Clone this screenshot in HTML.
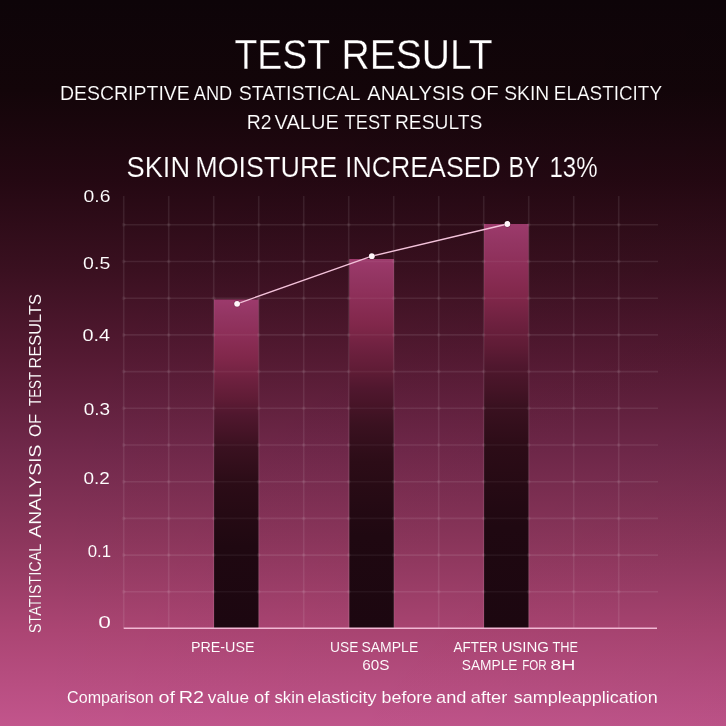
<!DOCTYPE html>
<html>
<head>
<meta charset="utf-8">
<style>
html,body{margin:0;padding:0;width:726px;height:726px;overflow:hidden;}
body{background:linear-gradient(90deg,rgba(0,0,0,0) 0%,rgba(0,0,0,0.035) 100%),linear-gradient(180deg,#0d0408 0%,#130509 12.4%,#240812 24.8%,#3a1020 37.2%,#551a33 49.6%,#70284a 62%,#8c365c 74.4%,#ab4573 86.8%,#c2558c 100%);}
svg{position:absolute;left:0;top:0;}
text{font-family:"Liberation Sans",sans-serif;fill:#ffffff;}
</style>
</head>
<body>
<svg width="726" height="726" viewBox="0 0 726 726">
<defs>
<linearGradient id="bar" x1="0" y1="0" x2="0" y2="1">
<stop offset="0" stop-color="#9c3a6c"/>
<stop offset="0.05" stop-color="#933562"/>
<stop offset="0.11" stop-color="#8c2e57"/>
<stop offset="0.18" stop-color="#80274a"/>
<stop offset="0.25" stop-color="#6c203e"/>
<stop offset="0.30" stop-color="#601c36"/>
<stop offset="0.35" stop-color="#50172e"/>
<stop offset="0.40" stop-color="#461427"/>
<stop offset="0.45" stop-color="#3a1120"/>
<stop offset="0.55" stop-color="#2c0c17"/>
<stop offset="0.75" stop-color="#1f0811"/>
<stop offset="1" stop-color="#1c0710"/>
</linearGradient>
</defs>

<g stroke="#ffffff" stroke-opacity="0.085" stroke-width="1.6" fill="none">
<line x1="123.7" y1="224.8" x2="658.0" y2="224.8"/>
<line x1="123.7" y1="261.5" x2="658.0" y2="261.5"/>
<line x1="123.7" y1="298.2" x2="658.0" y2="298.2"/>
<line x1="123.7" y1="334.9" x2="658.0" y2="334.9"/>
<line x1="123.7" y1="371.6" x2="658.0" y2="371.6"/>
<line x1="123.7" y1="408.3" x2="658.0" y2="408.3"/>
<line x1="123.7" y1="445.0" x2="658.0" y2="445.0"/>
<line x1="123.7" y1="481.7" x2="658.0" y2="481.7"/>
<line x1="123.7" y1="518.4" x2="658.0" y2="518.4"/>
<line x1="123.7" y1="555.1" x2="658.0" y2="555.1"/>
<line x1="123.7" y1="591.8" x2="658.0" y2="591.8"/>
</g>
<rect x="214.0" y="299.5" width="44.6" height="328.8" fill="url(#bar)"/>
<rect x="349.3" y="259.0" width="44.6" height="369.3" fill="url(#bar)"/>
<rect x="484.0" y="224.0" width="44.6" height="404.3" fill="url(#bar)"/>
<g stroke="#ffffff" stroke-opacity="0.05" stroke-width="1.6" fill="none">
<line x1="214.0" y1="334.9" x2="258.6" y2="334.9"/>
<line x1="214.0" y1="371.6" x2="258.6" y2="371.6"/>
<line x1="214.0" y1="408.3" x2="258.6" y2="408.3"/>
<line x1="214.0" y1="445.0" x2="258.6" y2="445.0"/>
<line x1="214.0" y1="481.7" x2="258.6" y2="481.7"/>
<line x1="214.0" y1="518.4" x2="258.6" y2="518.4"/>
<line x1="214.0" y1="555.1" x2="258.6" y2="555.1"/>
<line x1="214.0" y1="591.8" x2="258.6" y2="591.8"/>
<line x1="349.3" y1="261.5" x2="393.9" y2="261.5"/>
<line x1="349.3" y1="298.2" x2="393.9" y2="298.2"/>
<line x1="349.3" y1="334.9" x2="393.9" y2="334.9"/>
<line x1="349.3" y1="371.6" x2="393.9" y2="371.6"/>
<line x1="349.3" y1="408.3" x2="393.9" y2="408.3"/>
<line x1="349.3" y1="445.0" x2="393.9" y2="445.0"/>
<line x1="349.3" y1="481.7" x2="393.9" y2="481.7"/>
<line x1="349.3" y1="518.4" x2="393.9" y2="518.4"/>
<line x1="349.3" y1="555.1" x2="393.9" y2="555.1"/>
<line x1="349.3" y1="591.8" x2="393.9" y2="591.8"/>
<line x1="484.0" y1="261.5" x2="528.6" y2="261.5"/>
<line x1="484.0" y1="298.2" x2="528.6" y2="298.2"/>
<line x1="484.0" y1="334.9" x2="528.6" y2="334.9"/>
<line x1="484.0" y1="371.6" x2="528.6" y2="371.6"/>
<line x1="484.0" y1="408.3" x2="528.6" y2="408.3"/>
<line x1="484.0" y1="445.0" x2="528.6" y2="445.0"/>
<line x1="484.0" y1="481.7" x2="528.6" y2="481.7"/>
<line x1="484.0" y1="518.4" x2="528.6" y2="518.4"/>
<line x1="484.0" y1="555.1" x2="528.6" y2="555.1"/>
<line x1="484.0" y1="591.8" x2="528.6" y2="591.8"/>
</g>
<g stroke="#ffffff" stroke-opacity="0.085" stroke-width="1.6" fill="none">
<line x1="123.7" y1="196.0" x2="123.7" y2="628.3"/>
<line x1="168.7" y1="196.0" x2="168.7" y2="628.3"/>
<line x1="213.7" y1="196.0" x2="213.7" y2="628.3"/>
<line x1="258.7" y1="196.0" x2="258.7" y2="628.3"/>
<line x1="303.7" y1="196.0" x2="303.7" y2="628.3"/>
<line x1="348.7" y1="196.0" x2="348.7" y2="628.3"/>
<line x1="393.7" y1="196.0" x2="393.7" y2="628.3"/>
<line x1="438.7" y1="196.0" x2="438.7" y2="628.3"/>
<line x1="483.7" y1="196.0" x2="483.7" y2="628.3"/>
<line x1="528.7" y1="196.0" x2="528.7" y2="628.3"/>
<line x1="573.7" y1="196.0" x2="573.7" y2="628.3"/>
<line x1="618.7" y1="196.0" x2="618.7" y2="628.3"/>
</g>
<g fill="#ffffff" fill-opacity="0.05">
<circle cx="123.7" cy="224.8" r="2"/>
<circle cx="123.7" cy="261.5" r="2"/>
<circle cx="123.7" cy="298.2" r="2"/>
<circle cx="123.7" cy="334.9" r="2"/>
<circle cx="123.7" cy="371.6" r="2"/>
<circle cx="123.7" cy="408.3" r="2"/>
<circle cx="123.7" cy="445.0" r="2"/>
<circle cx="123.7" cy="481.7" r="2"/>
<circle cx="123.7" cy="518.4" r="2"/>
<circle cx="123.7" cy="555.1" r="2"/>
<circle cx="123.7" cy="591.8" r="2"/>
<circle cx="168.7" cy="224.8" r="2"/>
<circle cx="168.7" cy="261.5" r="2"/>
<circle cx="168.7" cy="298.2" r="2"/>
<circle cx="168.7" cy="334.9" r="2"/>
<circle cx="168.7" cy="371.6" r="2"/>
<circle cx="168.7" cy="408.3" r="2"/>
<circle cx="168.7" cy="445.0" r="2"/>
<circle cx="168.7" cy="481.7" r="2"/>
<circle cx="168.7" cy="518.4" r="2"/>
<circle cx="168.7" cy="555.1" r="2"/>
<circle cx="168.7" cy="591.8" r="2"/>
<circle cx="213.7" cy="224.8" r="2"/>
<circle cx="213.7" cy="261.5" r="2"/>
<circle cx="213.7" cy="298.2" r="2"/>
<circle cx="213.7" cy="334.9" r="2"/>
<circle cx="213.7" cy="371.6" r="2"/>
<circle cx="213.7" cy="408.3" r="2"/>
<circle cx="213.7" cy="445.0" r="2"/>
<circle cx="213.7" cy="481.7" r="2"/>
<circle cx="213.7" cy="518.4" r="2"/>
<circle cx="213.7" cy="555.1" r="2"/>
<circle cx="213.7" cy="591.8" r="2"/>
<circle cx="258.7" cy="224.8" r="2"/>
<circle cx="258.7" cy="261.5" r="2"/>
<circle cx="258.7" cy="298.2" r="2"/>
<circle cx="258.7" cy="334.9" r="2"/>
<circle cx="258.7" cy="371.6" r="2"/>
<circle cx="258.7" cy="408.3" r="2"/>
<circle cx="258.7" cy="445.0" r="2"/>
<circle cx="258.7" cy="481.7" r="2"/>
<circle cx="258.7" cy="518.4" r="2"/>
<circle cx="258.7" cy="555.1" r="2"/>
<circle cx="258.7" cy="591.8" r="2"/>
<circle cx="303.7" cy="224.8" r="2"/>
<circle cx="303.7" cy="261.5" r="2"/>
<circle cx="303.7" cy="298.2" r="2"/>
<circle cx="303.7" cy="334.9" r="2"/>
<circle cx="303.7" cy="371.6" r="2"/>
<circle cx="303.7" cy="408.3" r="2"/>
<circle cx="303.7" cy="445.0" r="2"/>
<circle cx="303.7" cy="481.7" r="2"/>
<circle cx="303.7" cy="518.4" r="2"/>
<circle cx="303.7" cy="555.1" r="2"/>
<circle cx="303.7" cy="591.8" r="2"/>
<circle cx="348.7" cy="224.8" r="2"/>
<circle cx="348.7" cy="261.5" r="2"/>
<circle cx="348.7" cy="298.2" r="2"/>
<circle cx="348.7" cy="334.9" r="2"/>
<circle cx="348.7" cy="371.6" r="2"/>
<circle cx="348.7" cy="408.3" r="2"/>
<circle cx="348.7" cy="445.0" r="2"/>
<circle cx="348.7" cy="481.7" r="2"/>
<circle cx="348.7" cy="518.4" r="2"/>
<circle cx="348.7" cy="555.1" r="2"/>
<circle cx="348.7" cy="591.8" r="2"/>
<circle cx="393.7" cy="224.8" r="2"/>
<circle cx="393.7" cy="261.5" r="2"/>
<circle cx="393.7" cy="298.2" r="2"/>
<circle cx="393.7" cy="334.9" r="2"/>
<circle cx="393.7" cy="371.6" r="2"/>
<circle cx="393.7" cy="408.3" r="2"/>
<circle cx="393.7" cy="445.0" r="2"/>
<circle cx="393.7" cy="481.7" r="2"/>
<circle cx="393.7" cy="518.4" r="2"/>
<circle cx="393.7" cy="555.1" r="2"/>
<circle cx="393.7" cy="591.8" r="2"/>
<circle cx="438.7" cy="224.8" r="2"/>
<circle cx="438.7" cy="261.5" r="2"/>
<circle cx="438.7" cy="298.2" r="2"/>
<circle cx="438.7" cy="334.9" r="2"/>
<circle cx="438.7" cy="371.6" r="2"/>
<circle cx="438.7" cy="408.3" r="2"/>
<circle cx="438.7" cy="445.0" r="2"/>
<circle cx="438.7" cy="481.7" r="2"/>
<circle cx="438.7" cy="518.4" r="2"/>
<circle cx="438.7" cy="555.1" r="2"/>
<circle cx="438.7" cy="591.8" r="2"/>
<circle cx="483.7" cy="224.8" r="2"/>
<circle cx="483.7" cy="261.5" r="2"/>
<circle cx="483.7" cy="298.2" r="2"/>
<circle cx="483.7" cy="334.9" r="2"/>
<circle cx="483.7" cy="371.6" r="2"/>
<circle cx="483.7" cy="408.3" r="2"/>
<circle cx="483.7" cy="445.0" r="2"/>
<circle cx="483.7" cy="481.7" r="2"/>
<circle cx="483.7" cy="518.4" r="2"/>
<circle cx="483.7" cy="555.1" r="2"/>
<circle cx="483.7" cy="591.8" r="2"/>
<circle cx="528.7" cy="224.8" r="2"/>
<circle cx="528.7" cy="261.5" r="2"/>
<circle cx="528.7" cy="298.2" r="2"/>
<circle cx="528.7" cy="334.9" r="2"/>
<circle cx="528.7" cy="371.6" r="2"/>
<circle cx="528.7" cy="408.3" r="2"/>
<circle cx="528.7" cy="445.0" r="2"/>
<circle cx="528.7" cy="481.7" r="2"/>
<circle cx="528.7" cy="518.4" r="2"/>
<circle cx="528.7" cy="555.1" r="2"/>
<circle cx="528.7" cy="591.8" r="2"/>
<circle cx="573.7" cy="224.8" r="2"/>
<circle cx="573.7" cy="261.5" r="2"/>
<circle cx="573.7" cy="298.2" r="2"/>
<circle cx="573.7" cy="334.9" r="2"/>
<circle cx="573.7" cy="371.6" r="2"/>
<circle cx="573.7" cy="408.3" r="2"/>
<circle cx="573.7" cy="445.0" r="2"/>
<circle cx="573.7" cy="481.7" r="2"/>
<circle cx="573.7" cy="518.4" r="2"/>
<circle cx="573.7" cy="555.1" r="2"/>
<circle cx="573.7" cy="591.8" r="2"/>
<circle cx="618.7" cy="224.8" r="2"/>
<circle cx="618.7" cy="261.5" r="2"/>
<circle cx="618.7" cy="298.2" r="2"/>
<circle cx="618.7" cy="334.9" r="2"/>
<circle cx="618.7" cy="371.6" r="2"/>
<circle cx="618.7" cy="408.3" r="2"/>
<circle cx="618.7" cy="445.0" r="2"/>
<circle cx="618.7" cy="481.7" r="2"/>
<circle cx="618.7" cy="518.4" r="2"/>
<circle cx="618.7" cy="555.1" r="2"/>
<circle cx="618.7" cy="591.8" r="2"/>
</g>
<line x1="123.7" y1="628.3" x2="657" y2="628.3" stroke="#f2b8d4" stroke-width="1.6"/>
<polyline points="237.1,303.8 371.8,256.2 507.4,224.0" fill="none" stroke="#f3c2da" stroke-width="1.35"/>
<circle cx="237.1" cy="303.8" r="3.4" fill="#2a0a18" fill-opacity="0.35"/>
<circle cx="237.1" cy="303.8" r="2.9" fill="#fff6fa"/>
<circle cx="371.8" cy="256.2" r="3.4" fill="#2a0a18" fill-opacity="0.35"/>
<circle cx="371.8" cy="256.2" r="2.9" fill="#fff6fa"/>
<circle cx="507.4" cy="224.0" r="3.4" fill="#2a0a18" fill-opacity="0.35"/>
<circle cx="507.4" cy="224.0" r="2.9" fill="#fff6fa"/>
</svg>
<svg width="726" height="726" viewBox="0 0 726 726" style="will-change:transform">
<defs><linearGradient id="bgs" gradientUnits="userSpaceOnUse" x1="0" y1="0" x2="0" y2="726">
<stop offset="0" stop-color="#0d0408"/><stop offset="0.124" stop-color="#130509"/><stop offset="0.248" stop-color="#240812"/><stop offset="0.372" stop-color="#3a1020"/><stop offset="0.496" stop-color="#551a33"/><stop offset="0.62" stop-color="#70284a"/><stop offset="0.744" stop-color="#8c365c"/><stop offset="0.868" stop-color="#ab4573"/><stop offset="1" stop-color="#c2558c"/>
</linearGradient>
<linearGradient id="bgsh" gradientUnits="userSpaceOnUse" x1="0" y1="0" x2="726" y2="0">
<stop offset="0" stop-color="#551a33"/><stop offset="1" stop-color="#511931"/>
</linearGradient></defs>
<g stroke="url(#bgs)">
<text x="234.57" y="68.6" font-size="42.2" stroke-width="0.3" textLength="95.42" lengthAdjust="spacingAndGlyphs">TEST</text>
<text x="341.60" y="68.6" font-size="42.2" stroke-width="0.3" textLength="151.12" lengthAdjust="spacingAndGlyphs">RESULT</text>
<text x="60.03" y="100.0" font-size="20.3" stroke-width="0.15" textLength="129.74" lengthAdjust="spacingAndGlyphs">DESCRIPTIVE</text>
<text x="193.75" y="100.0" font-size="20.3" stroke-width="0.15" textLength="38.53" lengthAdjust="spacingAndGlyphs">AND</text>
<text x="238.64" y="100.0" font-size="20.3" stroke-width="0.15" textLength="121.70" lengthAdjust="spacingAndGlyphs">STATISTICAL</text>
<text x="367.35" y="100.0" font-size="20.3" stroke-width="0.15" textLength="97.15" lengthAdjust="spacingAndGlyphs">ANALYSIS</text>
<text x="470.29" y="100.0" font-size="20.3" stroke-width="0.15" textLength="28.43" lengthAdjust="spacingAndGlyphs">OF</text>
<text x="504.25" y="100.0" font-size="20.3" stroke-width="0.15" textLength="44.97" lengthAdjust="spacingAndGlyphs">SKIN</text>
<text x="553.77" y="100.0" font-size="20.3" stroke-width="0.15" textLength="108.28" lengthAdjust="spacingAndGlyphs">ELASTICITY</text>
<text x="246.73" y="129.1" font-size="20.0" stroke-width="0.15" textLength="24.80" lengthAdjust="spacingAndGlyphs">R2</text>
<text x="274.55" y="129.1" font-size="20.0" stroke-width="0.15" textLength="64.24" lengthAdjust="spacingAndGlyphs">VALUE</text>
<text x="344.56" y="129.1" font-size="20.0" stroke-width="0.15" textLength="46.70" lengthAdjust="spacingAndGlyphs">TEST</text>
<text x="394.95" y="129.1" font-size="20.0" stroke-width="0.15" textLength="87.31" lengthAdjust="spacingAndGlyphs">RESULTS</text>
<text x="126.50" y="177.0" font-size="29.0" stroke-width="0.2" textLength="63.57" lengthAdjust="spacingAndGlyphs">SKIN</text>
<text x="195.25" y="177.0" font-size="29.0" stroke-width="0.2" textLength="142.03" lengthAdjust="spacingAndGlyphs">MOISTURE</text>
<text x="344.96" y="177.0" font-size="29.0" stroke-width="0.2" textLength="155.91" lengthAdjust="spacingAndGlyphs">INCREASED</text>
<text x="508.41" y="177.0" font-size="29.0" stroke-width="0.2" textLength="31.39" lengthAdjust="spacingAndGlyphs">BY</text>
<text x="549.45" y="177.0" font-size="29.0" stroke-width="0.2" textLength="48.12" lengthAdjust="spacingAndGlyphs">13%</text>
<text x="190.93" y="652.3" font-size="15.0" stroke-width="0.08" textLength="63.62" lengthAdjust="spacingAndGlyphs">PRE-USE</text>
<text x="329.99" y="652.3" font-size="15.0" stroke-width="0.08" textLength="28.34" lengthAdjust="spacingAndGlyphs">USE</text>
<text x="361.41" y="652.3" font-size="15.0" stroke-width="0.08" textLength="56.83" lengthAdjust="spacingAndGlyphs">SAMPLE</text>
<text x="362.23" y="669.7" font-size="15.0" stroke-width="0.08" textLength="27.16" lengthAdjust="spacingAndGlyphs">60S</text>
<text x="453.55" y="652.3" font-size="15.0" stroke-width="0.08" textLength="44.17" lengthAdjust="spacingAndGlyphs">AFTER</text>
<text x="501.51" y="652.3" font-size="15.0" stroke-width="0.08" textLength="47.56" lengthAdjust="spacingAndGlyphs">USING</text>
<text x="552.45" y="652.3" font-size="15.0" stroke-width="0.08" textLength="25.54" lengthAdjust="spacingAndGlyphs">THE</text>
<text x="461.72" y="669.7" font-size="15.0" stroke-width="0.08" textLength="55.81" lengthAdjust="spacingAndGlyphs">SAMPLE</text>
<text x="522.15" y="669.7" font-size="15.0" stroke-width="0.08" textLength="24.40" lengthAdjust="spacingAndGlyphs">FOR</text>
<text x="550.23" y="669.7" font-size="15.0" stroke-width="0.08" textLength="25.23" lengthAdjust="spacingAndGlyphs">8H</text>
<text x="67.10" y="702.6" font-size="16.9" stroke-width="0.08" textLength="86.66" lengthAdjust="spacingAndGlyphs">Comparison</text>
<text x="158.53" y="702.6" font-size="16.9" stroke-width="0.08" textLength="16.55" lengthAdjust="spacingAndGlyphs">of</text>
<text x="178.70" y="702.6" font-size="16.9" stroke-width="0.08" textLength="25.35" lengthAdjust="spacingAndGlyphs">R2</text>
<text x="207.85" y="702.6" font-size="16.9" stroke-width="0.08" textLength="41.20" lengthAdjust="spacingAndGlyphs">value</text>
<text x="254.08" y="702.6" font-size="16.9" stroke-width="0.08" textLength="15.31" lengthAdjust="spacingAndGlyphs">of</text>
<text x="274.39" y="702.6" font-size="16.9" stroke-width="0.08" textLength="29.91" lengthAdjust="spacingAndGlyphs">skin</text>
<text x="307.29" y="702.6" font-size="16.9" stroke-width="0.08" textLength="69.16" lengthAdjust="spacingAndGlyphs">elasticity</text>
<text x="381.64" y="702.6" font-size="16.9" stroke-width="0.08" textLength="50.54" lengthAdjust="spacingAndGlyphs">before</text>
<text x="436.08" y="702.6" font-size="16.9" stroke-width="0.08" textLength="30.39" lengthAdjust="spacingAndGlyphs">and</text>
<text x="470.78" y="702.6" font-size="16.9" stroke-width="0.08" textLength="36.46" lengthAdjust="spacingAndGlyphs">after</text>
<text x="513.67" y="702.6" font-size="16.9" stroke-width="0.08" textLength="143.99" lengthAdjust="spacingAndGlyphs">sampleapplication</text>
<text x="83.55" y="202.0" font-size="17.0" stroke-width="0.08" textLength="26.89" lengthAdjust="spacingAndGlyphs">0.6</text>
<text x="83.14" y="268.8" font-size="17.0" stroke-width="0.08" textLength="27.10" lengthAdjust="spacingAndGlyphs">0.5</text>
<text x="82.53" y="340.7" font-size="17.0" stroke-width="0.08" textLength="27.62" lengthAdjust="spacingAndGlyphs">0.4</text>
<text x="83.66" y="415.0" font-size="17.0" stroke-width="0.08" textLength="26.36" lengthAdjust="spacingAndGlyphs">0.3</text>
<text x="83.56" y="484.0" font-size="17.0" stroke-width="0.08" textLength="26.36" lengthAdjust="spacingAndGlyphs">0.2</text>
<text x="87.73" y="556.8" font-size="17.0" stroke-width="0.08" textLength="23.30" lengthAdjust="spacingAndGlyphs">0.1</text>
<text x="98.24" y="627.7" font-size="17.0" stroke-width="0.08" textLength="12.68" lengthAdjust="spacingAndGlyphs">0</text>
</g>
<g stroke="url(#bgsh)" transform="translate(41.0,0) rotate(-90)">
<text x="-633.30" y="0" font-size="16.9" stroke-width="0.08" textLength="89.71" lengthAdjust="spacingAndGlyphs">STATISTICAL</text>
<text x="-537.65" y="0" font-size="16.9" stroke-width="0.08" textLength="93.11" lengthAdjust="spacingAndGlyphs">ANALYSIS</text>
<text x="-436.93" y="0" font-size="16.9" stroke-width="0.08" textLength="23.13" lengthAdjust="spacingAndGlyphs">OF</text>
<text x="-406.06" y="0" font-size="16.9" stroke-width="0.08" textLength="34.24" lengthAdjust="spacingAndGlyphs">TEST</text>
<text x="-368.43" y="0" font-size="16.9" stroke-width="0.08" textLength="74.27" lengthAdjust="spacingAndGlyphs">RESULTS</text>
</g>
</svg>
</body>
</html>
